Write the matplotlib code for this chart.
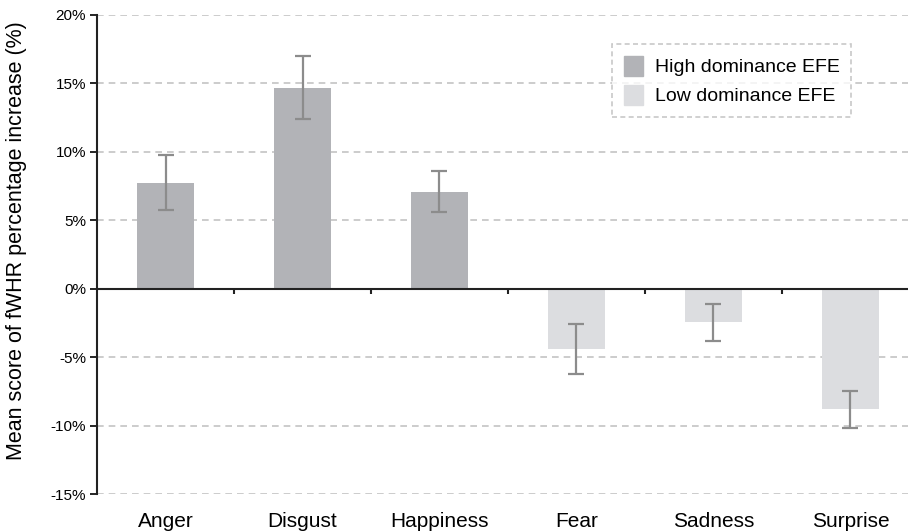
import numpy as np
import matplotlib.pyplot as plt
from matplotlib.patches import Patch

categories = ['Anger', 'Disgust', 'Happiness', 'Fear', 'Sadness', 'Surprise']
means = [7.75, 14.7, 7.1, -4.4, -2.45, -8.8]
errors = [2.0, 2.3, 1.5, 1.85, 1.35, 1.35]
groups = ['high', 'high', 'high', 'low', 'low', 'low']
yticks = [-15, -10, -5, 0, 5, 10, 15, 20]

colors = {'high': '#b2b3b7', 'low': '#dcdde0'}
narrow = ['Liberation Sans Narrow', 'Liberation Sans', 'DejaVu Sans']
plt.rcParams['font.family'] = ['Liberation Sans', 'DejaVu Sans']

fig = plt.figure(figsize=(9.08, 5.32), dpi=100)
ax = fig.add_axes([97 / 908, 38 / 532, 822 / 908, 479 / 532])

x = np.arange(len(categories))
ax.bar(x, means, width=0.41, color=[colors[g] for g in groups], zorder=2)
ax.errorbar(x, means, yerr=errors, fmt='none', ecolor='#8c8c8c',
            elinewidth=1.6, capsize=6, capthick=1.6, zorder=3)

ax.set_xlim(-0.5, len(categories) - 0.5)
ax.set_ylim(-15, 20)
ax.set_yticks(yticks)
ax.set_yticklabels([f'{v}%' for v in yticks], family=narrow, fontsize=11)
ax.tick_params(axis='y', length=5, width=1.2, pad=3)
for v in yticks:
    if v != 0:
        ax.axhline(v, color='#c4c4c4', lw=1.2, ls=(0, (4, 3)), zorder=0)

ax.set_xticks(x)
ax.set_xticklabels(categories, family=narrow, fontsize=15)
ax.tick_params(axis='x', length=0, pad=13)

# zero line with category boundary ticks
ax.axhline(0, color='#222222', lw=1.5, zorder=4)
ax.vlines(np.arange(1, len(categories)) - 0.5, -0.38, 0, color='#222222', lw=1.5, zorder=4)

for s in ['top', 'right', 'bottom']:
    ax.spines[s].set_visible(False)
ax.spines['left'].set_linewidth(1.5)
ax.spines['left'].set_color('#222222')

ax.set_ylabel('Mean score of fWHR percentage increase (%)', fontsize=15.5)
ax.yaxis.set_label_coords(-0.085, 0.528)

handles = [Patch(color=colors['high'], label='High dominance EFE'),
           Patch(color=colors['low'], label='Low dominance EFE')]
leg = ax.legend(handles=handles, loc='upper left', bbox_to_anchor=((612 - 97) / 822, 1 - 29 / 479),
                borderaxespad=0, fontsize=14, frameon=True, fancybox=False,
                handlelength=1.0, handleheight=1.2, handletextpad=0.6,
                borderpad=0.6, labelspacing=0.45)
leg.get_frame().set_edgecolor('#bbbbbb')
leg.get_frame().set_linestyle((0, (3, 2)))
leg.get_frame().set_linewidth(1.2)

fig.savefig('out.png', dpi=100)
